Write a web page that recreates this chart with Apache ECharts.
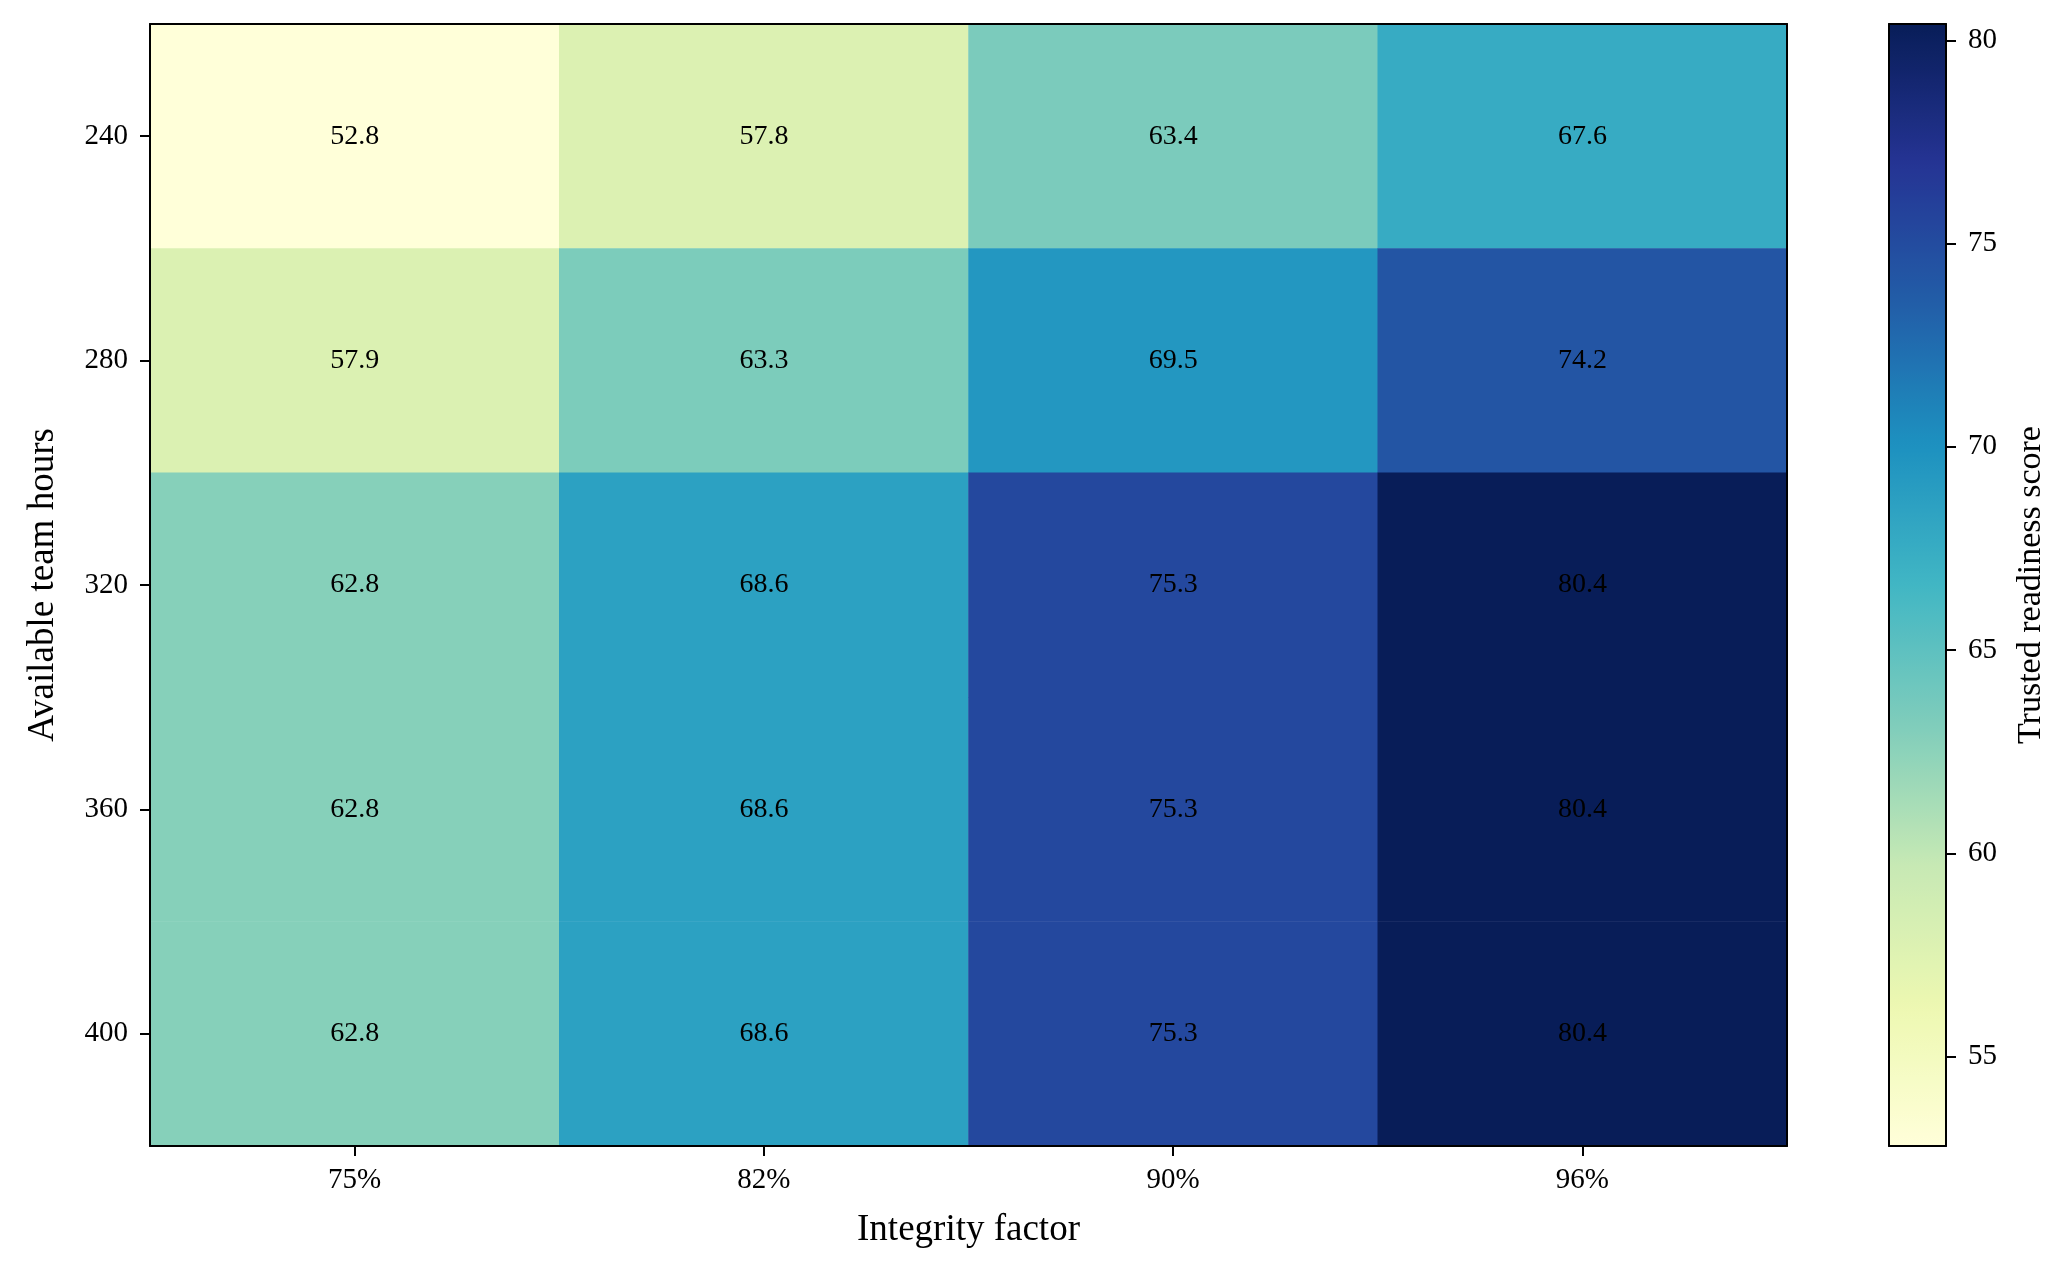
<!DOCTYPE html>
<html>
<head>
<meta charset="utf-8">
<script src="https://cdn.jsdelivr.net/npm/echarts@6/dist/echarts.min.js"></script>
<style>
html,body{margin:0;padding:0;background:#fff;}
#chart{width:2071px;height:1273px;}
</style>
</head>
<body>
<div id="chart"></div>
<script>
// ---- data ----
const hours = ['240', '280', '320', '360', '400'];
const factors = ['75%', '82%', '90%', '96%'];
const scores = [
  [52.8, 57.8, 63.4, 67.6],
  [57.9, 63.3, 69.5, 74.2],
  [62.8, 68.6, 75.3, 80.4],
  [62.8, 68.6, 75.3, 80.4],
  [62.8, 68.6, 75.3, 80.4]
];
const colorbarTicks = [55, 60, 65, 70, 75, 80];
const ylgnbu = ['#ffffd9', '#edf8b1', '#c7e9b4', '#7fcdbb', '#41b6c4', '#1d91c0', '#225ea8', '#253494', '#081d58'];

// ---- build ----
const flat = scores.flat();
const vMin = Math.min.apply(null, flat);
const vMax = Math.max.apply(null, flat);
const heatData = [];
scores.forEach((row, r) => row.forEach((v, c) => heatData.push([c, r, v])));

const FONT = 'Liberation Serif';
const chart = echarts.init(document.getElementById('chart'), null, {renderer: 'canvas'});

const hiddenAxisBits = {
  axisTick: {show: false},
  axisLabel: {show: false},
  splitLine: {show: false}
};
const frameLine = {show: true, onZero: false, lineStyle: {color: '#000', width: 2}};

chart.setOption({
  backgroundColor: '#fff',
  animation: false,
  textStyle: {fontFamily: FONT, color: '#000'},
  grid: [
    {left: 150, right: 284, top: 24, bottom: 127},
    {left: 1889, width: 57, top: 24, bottom: 127}
  ],
  xAxis: [
    {
      gridIndex: 0, type: 'category', data: factors, position: 'bottom',
      name: 'Integrity factor', nameLocation: 'middle', nameGap: 66,
      nameTextStyle: {fontFamily: FONT, fontSize: 37, color: '#000'},
      axisLine: frameLine,
      axisTick: {show: true, alignWithLabel: true, length: 10, lineStyle: {color: '#000', width: 2}},
      axisLabel: {fontFamily: FONT, fontSize: 29, color: '#000', margin: 20},
      splitLine: {show: false}, z: 5
    },
    Object.assign({gridIndex: 0, type: 'category', data: factors, position: 'top', axisLine: frameLine, z: 5}, hiddenAxisBits),
    Object.assign({gridIndex: 1, type: 'value', min: 0, max: 1, position: 'bottom', axisLine: frameLine, z: 5}, hiddenAxisBits),
    Object.assign({gridIndex: 1, type: 'value', min: 0, max: 1, position: 'top', axisLine: frameLine, z: 5}, hiddenAxisBits)
  ],
  yAxis: [
    {
      gridIndex: 0, type: 'category', data: hours, inverse: true, position: 'left',
      name: 'Available team hours', nameLocation: 'middle', nameGap: 88,
      nameTextStyle: {fontFamily: FONT, fontSize: 37, color: '#000'},
      axisLine: frameLine,
      axisTick: {show: true, alignWithLabel: true, length: 10, lineStyle: {color: '#000', width: 2}},
      axisLabel: {fontFamily: FONT, fontSize: 29, color: '#000', margin: 22},
      splitLine: {show: false}, z: 5
    },
    Object.assign({gridIndex: 0, type: 'category', data: hours, inverse: true, position: 'right', axisLine: frameLine, z: 5}, hiddenAxisBits),
    {
      gridIndex: 1, type: 'value', min: vMin, max: vMax, position: 'right',
      name: 'Trusted readiness score', nameLocation: 'middle', nameGap: 68, nameRotate: 90,
      nameTextStyle: {fontFamily: FONT, fontSize: 34, color: '#000'},
      axisLine: frameLine,
      axisTick: {show: true, length: 10, customValues: colorbarTicks, lineStyle: {color: '#000', width: 2}},
      axisLabel: {fontFamily: FONT, fontSize: 29, color: '#000', margin: 22, customValues: colorbarTicks},
      splitLine: {show: false}, z: 5
    },
    Object.assign({gridIndex: 1, type: 'value', min: vMin, max: vMax, position: 'left', axisLine: frameLine, z: 5}, hiddenAxisBits)
  ],
  visualMap: {
    type: 'continuous',
    min: vMin, max: vMax,
    seriesIndex: 0,
    calculable: false,
    realtime: false,
    orient: 'vertical',
    left: 1889, top: 24,
    itemWidth: 57, itemHeight: 1122,
    padding: 0,
    text: null,
    showLabel: false,
    hoverLink: false,
    inRange: {color: ylgnbu},
    z: 2
  },
  series: [{
    type: 'heatmap',
    xAxisIndex: 0, yAxisIndex: 0,
    data: heatData,
    itemStyle: {borderWidth: 0},
    label: {
      show: true, color: '#000', fontFamily: FONT, fontSize: 28,
      formatter: p => p.value[2].toFixed(1)
    },
    emphasis: {disabled: true}
  }]
});
</script>
</body>
</html>
